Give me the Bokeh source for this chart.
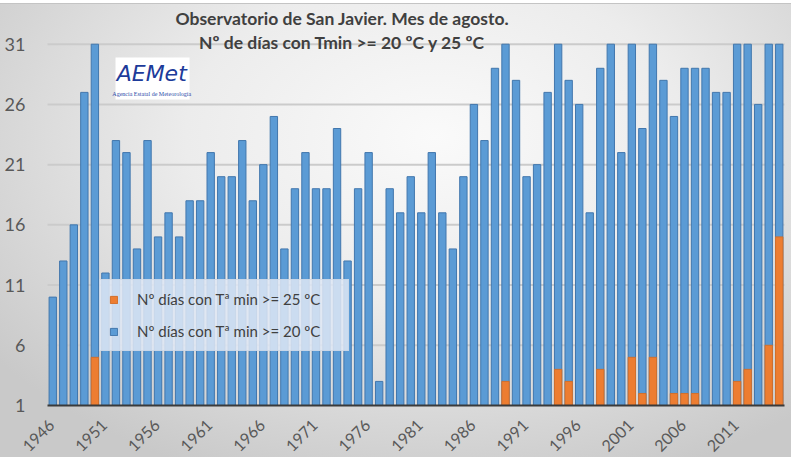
import math
from bokeh.plotting import figure
from bokeh.models import Range1d, Legend, LegendItem, Label, BoxAnnotation
from bokeh.core.properties import value
from bokeh.embed import file_html
from bokeh.resources import INLINE

years = list(range(1946, 2016))
dias_20 = [10, 13, 16, 27, 31, 12, 23, 22, 14, 23,
           15, 17, 15, 18, 18, 22, 20, 20, 23, 18,
           21, 25, 14, 19, 22, 19, 19, 24, 13, 19,
           22, 3, 19, 17, 20, 17, 22, 17, 14, 20,
           26, 23, 29, 31, 28, 20, 21, 27, 31, 28,
           26, 17, 29, 31, 22, 31, 24, 31, 28, 25,
           29, 29, 29, 27, 27, 31, 31, 26, 31, 31]
dias_25 = [0, 0, 0, 0, 5, 0, 0, 0, 0, 0,
           0, 0, 0, 0, 0, 0, 0, 0, 0, 0,
           0, 0, 0, 0, 0, 0, 0, 0, 0, 0,
           0, 0, 0, 0, 0, 0, 0, 0, 0, 0,
           0, 0, 0, 3, 0, 0, 0, 0, 4, 3,
           0, 0, 4, 0, 0, 5, 2, 5, 0, 2,
           2, 2, 0, 0, 0, 3, 4, 0, 6, 15]
y_ticks = [1, 6, 11, 16, 21, 26, 31]
y_tick_labels = ["1", "6", "11", "16", "21", "26", "31"]
x_ticks = [1946, 1951, 1956, 1961, 1966, 1971, 1976, 1981, 1986, 1991, 1996, 2001, 2006, 2011]
x_tick_labels = ["1946", "1951", "1956", "1961", "1966", "1971", "1976",
                 "1981", "1986", "1991", "1996", "2001", "2006", "2011"]
title_1 = "Observatorio  de San Javier. Mes de agosto."
title_2 = "Nº de días  con Tmin >= 20 ºC y 25 ºC"
label_20 = "Nº días con Tª min >= 20 ºC"
label_25 = "Nº días con Tª min >= 25 ºC"

W, H = 791, 457
PX_PER_Y = 12.043
x_lo, x_hi = years[0] - 0.5, years[-1] + 0.5
p = figure(width=W, height=H, output_backend="svg", toolbar_location=None,
           x_range=Range1d(1941.036, 2016.164), y_range=Range1d(-3.318, 34.629),
           min_border=0)
p.xaxis.visible = False
p.yaxis.visible = False
p.grid.visible = False
p.styles = {"background": "linear-gradient(to bottom, #ffffff 0px, #ffffff 3px, #c4c4c4 3px, #c4c4c4 4px, rgba(0,0,0,0) 4px), "
                          "radial-gradient(ellipse 70% 80% at 55% 30%, #fafafa 0%, #ececec 45%, #c9c9c9 100%)"}
p.border_fill_alpha = 0
p.background_fill_alpha = 0
p.outline_line_color = None

grid_y = y_ticks[1:]
p.segment(x0=[x_lo] * len(grid_y), x1=[x_hi] * len(grid_y), y0=grid_y, y1=grid_y,
          line_color="#cbcbcb", line_width=2)

o_years = [y for y, v in zip(years, dias_25) if v > 0]
o_vals = [v for v in dias_25 if v > 0]

r20 = p.vbar(x=years, bottom=y_ticks[0], top=dias_20, width=0.7,
             fill_color="#5b9bd5", line_color="#4277ad", line_width=1)
r25 = p.vbar(x=o_years, bottom=y_ticks[0], top=o_vals, width=0.7,
             fill_color="#ed7d31", line_color="#d36f2a", line_width=1)

p.segment(x0=[x_lo], x1=[x_hi], y0=[y_ticks[0]], y1=[y_ticks[0]], line_color="#3a3a3a", line_width=2)

# value-axis labels
p.text(x=[x_lo] * len(y_ticks), y=y_ticks, text=y_tick_labels, x_offset=-22,
       text_align="right", text_baseline="middle",
       text_font=value("Lato"), text_font_size="18px", text_color="#595959")

# category-axis labels, rotated 45 degrees, right end at the tick
label_y = y_ticks[0] - 17 / PX_PER_Y
p.text(x=x_ticks, y=[label_y] * len(x_ticks), text=x_tick_labels, x_offset=-1,
       angle=math.pi / 4, text_align="right", text_baseline="middle",
       text_font=value("Lato"), text_font_size="16px", text_color="#595959")

legend = Legend(items=[LegendItem(label=label_25, renderers=[r25]),
                       LegendItem(label=label_20, renderers=[r20])],
                location=(99, 106))
legend.background_fill_color = "#dfe8f4"
legend.background_fill_alpha = 0.85
legend.border_line_color = "#c3cfdf"
legend.border_line_width = 1
legend.padding = 9
legend.spacing = 12
legend.label_height = 20
legend.glyph_width = 9
legend.glyph_height = 9
legend.label_standoff = 19
legend.label_width = 202
legend.margin = 0
legend.label_text_font = "Lato"
legend.label_text_font_size = "15px"
legend.label_text_color = "#404040"
p.add_layout(legend, "center")

p.add_layout(Label(x=1973.7, y=33.13, text=title_1, text_align="center", text_baseline="middle",
                   text_font="Lato", text_font_style="bold", text_font_size="17.5px", text_color="#404040"))
p.add_layout(Label(x=1973.7, y=31.14, text=title_2, text_align="center", text_baseline="middle",
                   text_font="Lato", text_font_style="bold", text_font_size="17.5px", text_color="#404040"))

p.add_layout(BoxAnnotation(left=1951.96, right=1958.99, bottom=26.41, top=29.9,
                           fill_color="white", fill_alpha=1, line_color=None))
p.add_layout(Label(x=1955.4, y=28.6, text="AEMet", text_align="center", text_baseline="middle",
                   text_font="DejaVu Sans", text_font_style="italic", text_font_size="22px", text_color="#1d3b9a"))
p.add_layout(Label(x=1955.4, y=26.85, text="Agencia Estatal de Meteorología", text_align="center", text_baseline="middle",
                   text_font="Liberation Sans Narrow", text_font_size="6px", text_color="#2a4aa8"))

open("out.html", "w").write(file_html(p, INLINE))
